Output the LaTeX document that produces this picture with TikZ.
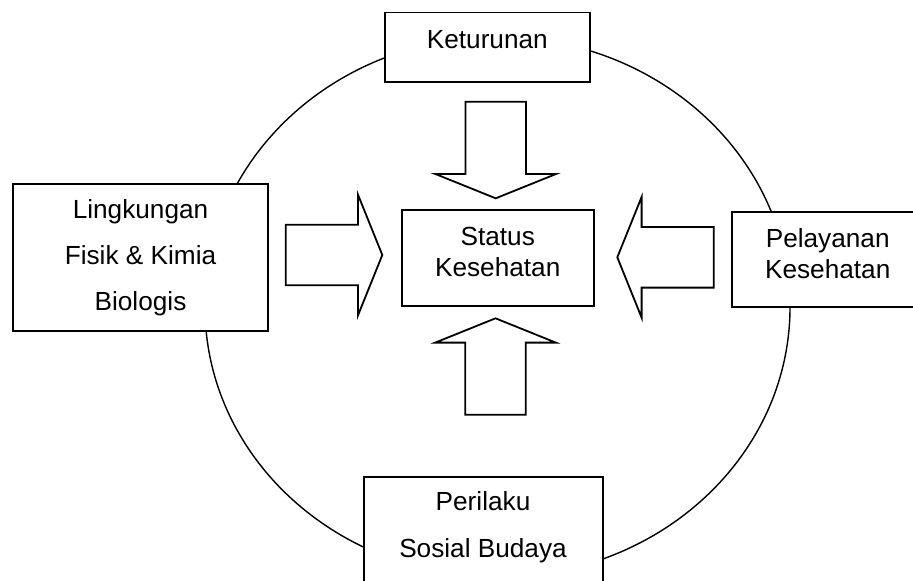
\documentclass[tikz,border=0pt]{standalone}
\usepackage{fontspec}
\setmainfont{Liberation Sans}
\usetikzlibrary{positioning}
\tikzset{box/.style={draw,fill=white,line width=0.95pt,inner sep=0pt},
  lbl/.style={align=center,inner sep=0pt,font=\fontsize{13.1}{15.3}\selectfont},
  blockarrow/.style={draw,fill=white,line width=0.9pt,line join=miter}}

\begin{document}
\begin{tikzpicture}[x=0.5pt,y=-0.5pt]
        \useasboundingbox (0,0) rectangle (913,580);
        \clip (0,0) rectangle (913,580);
        \coordinate (C) at (497.5,307);
        \draw[line width=0.7pt] (C) ellipse [x radius=146.25pt, y radius=135pt];
        % factor boxes
        \node[box,minimum width=102.5pt,minimum height=34.6pt] (ket) at (487.5,47.1) {};
        \node[box,minimum width=127.2pt,minimum height=73.65pt] (ling) at (140.5,257.35) {};
        \node[box,minimum width=96pt,minimum height=48pt] (stat) at (497.7,258) {};
        \node[box,minimum width=96pt,minimum height=47.8pt] (pel) at (827.8,259.5) {};
        \node[box,minimum width=119.65pt,minimum height=65pt] (peri) at (483.65,541.7) {};
        \node[lbl] (kettxt) at (487.3,39.5) {Keturunan};
        \node[lbl] (lingtxt) at (140.5,257.8) {Lingkungan\\[7.7pt] Fisik \& Kimia\\[7.7pt] Biologis};
        \node[lbl] (stattxt) at (497.7,252) {Status\\ Kesehatan};
        \node[lbl] (peltxt) at (827.7,253.5) {Pelayanan\\ Kesehatan};
        \node[lbl] (peritxt) at (483,527) {Perilaku\\[8pt] Sosial Budaya};
        % block arrows towards the status box
        \foreach \tx/\ty/\ang in {382.3/255/0, 617.3/257.3/180, 495.7/198.3/-90, 495.5/318.3/90}
          \draw[blockarrow,shift={(\tx,\ty)},rotate=\ang] (-96.5,-30.3) -- (-24.3,-30.3) -- (-24.3,-60.3) -- (0,0)
            -- (-24.3,60.3) -- (-24.3,30.3) -- (-96.5,30.3) -- cycle;
\end{tikzpicture}
\end{document}
